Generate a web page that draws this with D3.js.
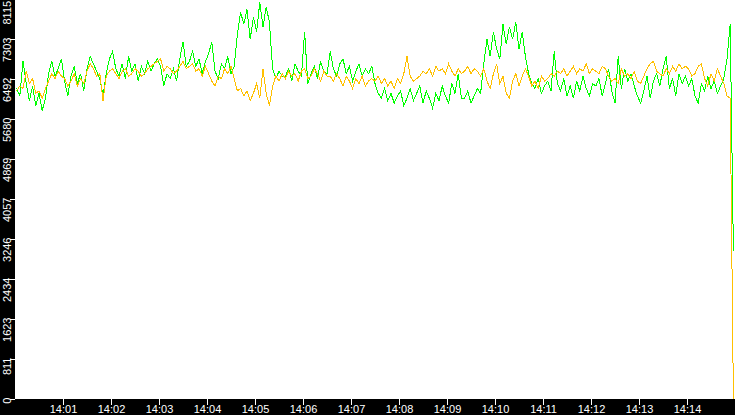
<!DOCTYPE html>
<html>
<head>
<meta charset="utf-8">
<script src="https://cdn.jsdelivr.net/npm/d3@7"></script>
<style>
  html, body { margin: 0; padding: 0; background: #fff; }
  svg { display: block; }
  .axis text { font-family: "Liberation Sans", Arial, sans-serif; font-size: 11px; fill: #fff; }
  .axis line { stroke: #fff; shape-rendering: crispEdges; }
</style>
</head>
<body>
<div id="chart"></div>
<script>
// sampling: one point every 4 s, first one at 14:00:02
let startSec = 2;
let stepSec = 4;

let yTickLabels = [0, 811, 1623, 2434, 3246, 4057, 4869, 5680, 6492, 7303, 8115];
let xTickLabels = ["14:01", "14:02", "14:03", "14:04", "14:05", "14:06", "14:07",
  "14:08", "14:09", "14:10", "14:11", "14:12", "14:13", "14:14"];

let serieVerde = [
  6300, 6150, 6850, 6400, 6050, 6350, 5950, 6200, 5850, 6100, 6600, 6850, 6550, 6700,
  6900, 6450, 6150, 6550, 6750, 6400, 6600, 6250, 6700, 6950, 6800, 6650, 6500, 6150,
  6600, 6900, 7050, 6700, 6550, 6800, 6500, 6950, 6650, 6800, 6450, 6750, 6600, 6850,
  6650, 6800, 6900, 6750, 6350, 6600, 6500, 6700, 6450, 6900, 7250, 6750, 6850, 7050,
  6750, 6900, 6600, 6850, 7000, 7250, 6650, 6500, 6800, 6700, 6950, 6600, 6750, 7400,
  7850, 7600, 7900, 7300, 7750, 7450, 8050, 7550, 7950, 7650, 6700, 6500, 6650, 6550,
  6550, 6700, 6450, 6800, 6650, 6550, 7450, 6400, 6600, 6750, 6500, 6850, 6650, 6600,
  7050, 6700, 6550, 6800, 6900, 6600, 6750, 6450, 6650, 6800, 6550, 6700, 6600, 6750,
  6400, 6200, 6100, 6300, 6050, 6200, 6000, 6150, 6250, 5950, 6100, 6300, 6050, 6200,
  6350, 6000, 6250, 6100, 5900, 6200, 6050, 6350, 6150, 6000, 6400, 6200, 6600, 6100,
  6100, 6250, 6000, 6150, 6300, 6200, 6800, 7300, 6950, 7450, 7100, 6900, 7600, 7200,
  7550, 7300, 7650, 7100, 7450, 6950, 6600, 6400, 6300, 6500, 6200, 6350, 6450, 6250,
  7050, 6400, 6250, 6500, 6150, 6350, 6100, 6450, 6250, 6550, 6300, 6150, 6400, 6350,
  6500, 6150, 6400, 6700, 6250, 6000, 6950, 6300, 6700, 6450, 6600, 6350, 6150, 6000,
  6250, 6550, 6100, 6450, 6600, 6350, 6700, 6950, 6300, 6500, 6150, 6600, 6400, 6550,
  6350, 6500, 6150, 6000, 6400, 6250, 6550, 6300, 6450, 6200, 6350, 6500, 6900, 7600, 3000
];

let serieNaranja = [
  6250, 6350, 6300, 6650, 6400, 6500, 6200, 6250, 6100, 6300, 6450, 6600, 6500, 6650,
  6550, 6500, 6350, 6450, 6600, 6350, 6500, 6400, 6650, 6800, 6700, 6550, 6600, 6050,
  6550, 6650, 6700, 6600, 6500, 6650, 6700, 6550, 6600, 6700, 6650, 6550, 6600, 6700,
  6750, 6800, 6850, 6900, 6650, 6750, 6700, 6600, 6650, 6750, 6850, 6700, 6750, 6800,
  6650, 6700, 6550, 6750, 6600, 6450, 6350, 6550, 6500, 6700, 6600, 6750, 6500, 6250,
  6300, 6150, 6250, 6050, 6200, 6400, 6100, 6700, 6200, 5950, 6350, 6550, 6450, 6600,
  6500, 6650, 6550, 6600, 6450, 6650, 6700, 6500, 6550, 6700, 6600, 6450, 6650, 6550,
  6550, 6450, 6600, 6500, 6350, 6550, 6450, 6300, 6500, 6400, 6550, 6350, 6450, 6500,
  6450, 6550, 6400, 6500, 6350, 6450, 6300, 6500, 6400, 6600, 6950, 6550, 6450, 6500,
  6550, 6650, 6600, 6700, 6550, 6750, 6650, 6700, 6600, 6800, 6650, 6550, 6700, 6600,
  6650, 6750, 6600, 6700, 6650, 6550, 6700, 6450, 6300, 6600, 6800, 6400, 6550, 6200,
  6100, 6450, 6600, 6350, 6550, 6700, 6550, 6350, 6450, 6300, 6550, 6450, 6500, 6600,
  6550, 6650, 6600, 6700, 6550, 6650, 6750, 6600, 6700, 6650, 6800, 6600, 6700, 6650,
  6600, 6750, 6700, 6550, 6450, 6500, 6400, 6700, 6550, 6600, 6500, 6650, 6450, 6400,
  6550, 6700, 6800, 6850, 6650, 6600, 6550, 6700, 6600, 6750, 6650, 6800, 6700, 6750,
  6700, 6550, 6600, 6750, 6800, 6500, 6350, 6600, 6450, 6700, 6550, 6400, 6150, 6100, 0
];

let ancho = 735;
let alto = 415;
let margin = { top: 0, right: 0, bottom: 16, left: 15 };

let inicio = new Date(2024, 0, 1, 14, 0, 0);
let fin = new Date(2024, 0, 1, 14, 15, 0);

function tiempo(i) {
  return new Date(inicio.getTime() + (startSec + stepSec * i) * 1000);
}

let svg = d3
  .select("#chart")
  .append("svg")
  .attr("width", ancho)
  .attr("height", alto);

svg.append("rect").attr("width", ancho).attr("height", alto).attr("fill", "#fff");

let x = d3
  .scaleTime()
  .domain([inicio, fin])
  .range([margin.left, ancho - margin.right]);

let y = d3
  .scaleLinear()
  .domain([0, 8115])
  .range([alto - margin.bottom, margin.top - 1]);

// lineas
let linea = d3
  .line()
  .x((d, i) => x(tiempo(i)))
  .y((d) => y(d));

svg
  .append("path")
  .datum(serieVerde)
  .attr("d", linea)
  .attr("fill", "none")
  .attr("stroke", "#00ff00")
  .attr("stroke-width", 1)
  .attr("shape-rendering", "crispEdges");

svg
  .append("path")
  .datum(serieNaranja)
  .attr("d", linea)
  .attr("fill", "none")
  .attr("stroke", "#ffc000")
  .attr("stroke-width", 1)
  .attr("shape-rendering", "crispEdges");

// bandas negras de los ejes
svg
  .append("rect")
  .attr("x", 0)
  .attr("y", 0)
  .attr("width", margin.left)
  .attr("height", alto)
  .attr("fill", "#000");

svg
  .append("rect")
  .attr("x", 0)
  .attr("y", alto - margin.bottom)
  .attr("width", ancho)
  .attr("height", margin.bottom)
  .attr("fill", "#000");

// eje y
let ejeY = svg
  .append("g")
  .attr("class", "axis")
  .attr("transform", "translate(" + margin.left + ",0)")
  .call(d3.axisLeft(y).tickValues(yTickLabels).tickSize(5).tickSizeOuter(0).tickFormat((d) => d));

ejeY.select(".domain").remove();
ejeY
  .selectAll("text")
  .attr("x", null)
  .attr("dy", null)
  .attr("text-anchor", "end")
  .attr("transform", "translate(-4,-2) rotate(-90)");

// la etiqueta superior se baja para que quepa
ejeY
  .selectAll("text")
  .filter((d) => d === d3.max(yTickLabels))
  .attr("text-anchor", "start")
  .attr("transform", "translate(-4,25) rotate(-90)");

// eje x
let parseHora = d3.timeParse("%H:%M");
let xTicks = xTickLabels.map((t) => {
  let h = parseHora(t);
  return new Date(2024, 0, 1, h.getHours(), h.getMinutes(), 0);
});

let ejeX = svg
  .append("g")
  .attr("class", "axis")
  .attr("transform", "translate(0," + (alto - margin.bottom) + ")")
  .call(
    d3.axisBottom(x)
      .tickValues(xTicks)
      .tickSize(6)
      .tickSizeOuter(0)
      .tickFormat((d, i) => xTickLabels[i])
  );

ejeX.select(".domain").remove();
ejeX.selectAll("text").attr("y", 14).attr("dy", null);
</script>
</body>
</html>
